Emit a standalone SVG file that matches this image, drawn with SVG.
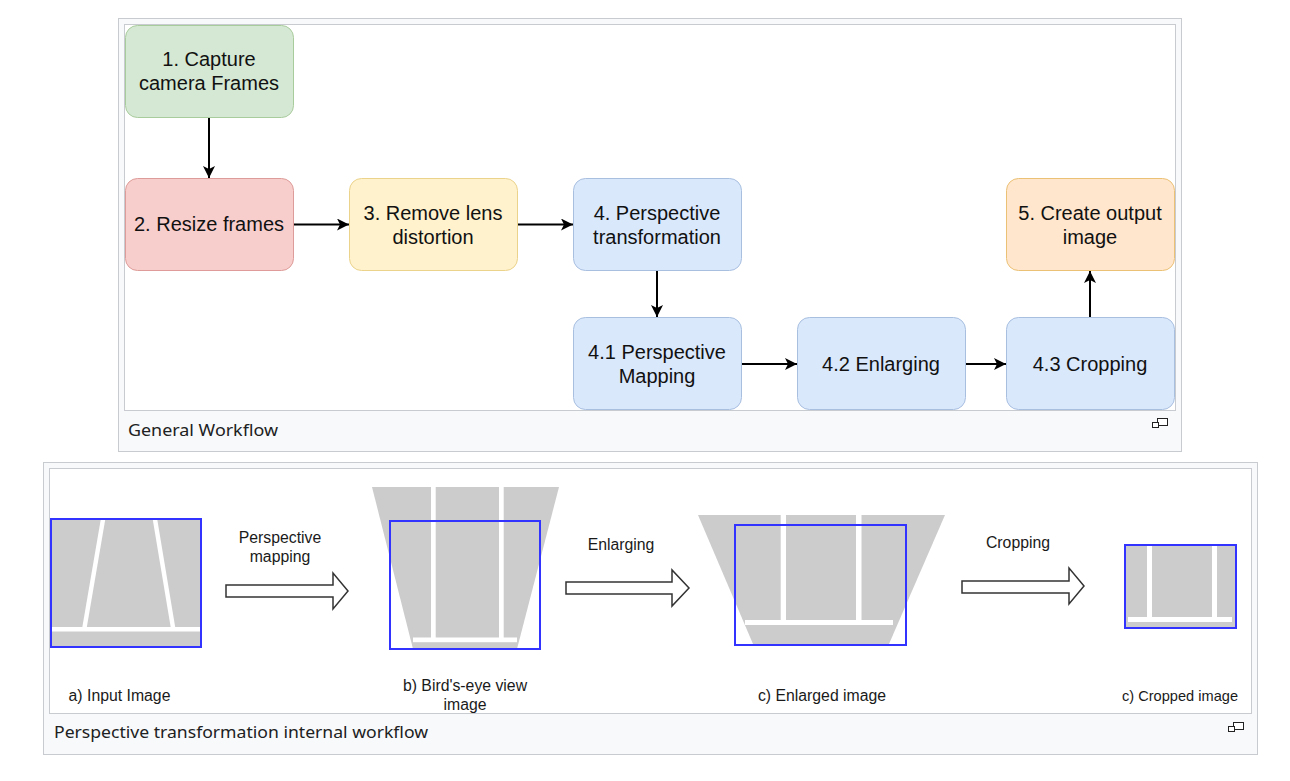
<svg xmlns="http://www.w3.org/2000/svg" width="1290" height="781" viewBox="0 0 1290 781">
<style>
.frame{fill:#f8f9fa;stroke:#c8ccd1;stroke-width:1}
.inner{fill:#ffffff;stroke:#c8ccd1;stroke-width:1}
.cap{font-family:"Noto Sans","Open Sans",sans-serif;font-size:16px;fill:#202122}
.nt{font-family:"Liberation Sans",Arial,sans-serif;font-size:20px;fill:#111;text-anchor:middle}
.lt{font-family:"Liberation Sans",Arial,sans-serif;font-size:15.8px;fill:#1a1a1a;text-anchor:middle}
.conn{stroke:#000;stroke-width:2;fill:none}
.green{fill:#d5e8d4;stroke:#a9cc9c}
.red{fill:#f8cecc;stroke:#dd9c99}
.yellow{fill:#fff2cc;stroke:#ebd38c}
.blue{fill:#dae8fc;stroke:#a8bfe0}
.orange{fill:#ffe6cc;stroke:#ebc175}
.gray{fill:#cccccc}
.wl{fill:#ffffff}
.sel{fill:none;stroke:#3333ff;stroke-width:2}
.harrow{fill:#ffffff;stroke:#333;stroke-width:1.5}
.icon{fill:#ffffff;stroke:#222;stroke-width:1}
</style>
<defs>
<marker id="ah" markerUnits="userSpaceOnUse" markerWidth="13" markerHeight="12" refX="12" refY="6" orient="auto">
<path d="M0,0 L12,6 L0,12 L3,6 z" fill="#000"/>
</marker>
</defs>

<!-- Top frame -->
<g id="frame-general">
<rect class="frame" x="118.5" y="18.5" width="1063" height="433"/>
<rect class="inner" x="124.5" y="24.5" width="1051" height="386"/>
<text class="cap" x="128" y="436" textLength="150" lengthAdjust="spacingAndGlyphs">General Workflow</text>
<rect class="icon" x="1157.5" y="418.5" width="10" height="7"/>
<rect class="icon" x="1152.5" y="422.5" width="6" height="5"/>
</g>

<g id="node1">
<rect class="green" x="125.5" y="25.5" width="168" height="92" rx="12"/>
<text class="nt" x="209" y="66">1. Capture</text>
<text class="nt" x="209" y="90">camera Frames</text>
</g>
<g id="node2">
<rect class="red" x="125.5" y="178.5" width="168" height="92" rx="12"/>
<text class="nt" x="209" y="231">2. Resize frames</text>
</g>
<g id="node3">
<rect class="yellow" x="349.5" y="178.5" width="168" height="92" rx="12"/>
<text class="nt" x="433" y="220">3. Remove lens</text>
<text class="nt" x="433" y="244">distortion</text>
</g>
<g id="node4">
<rect class="blue" x="573.5" y="178.5" width="168" height="92" rx="12"/>
<text class="nt" x="657" y="220">4. Perspective</text>
<text class="nt" x="657" y="244">transformation</text>
</g>
<g id="node5">
<rect class="orange" x="1006.5" y="178.5" width="168" height="92" rx="12"/>
<text class="nt" x="1090" y="220">5. Create output</text>
<text class="nt" x="1090" y="244">image</text>
</g>
<g id="node41">
<rect class="blue" x="573.5" y="317.5" width="168" height="92" rx="12"/>
<text class="nt" x="657" y="359">4.1 Perspective</text>
<text class="nt" x="657" y="383">Mapping</text>
</g>
<g id="node42">
<rect class="blue" x="797.5" y="317.5" width="168" height="92" rx="12"/>
<text class="nt" x="881" y="371">4.2 Enlarging</text>
</g>
<g id="node43">
<rect class="blue" x="1006.5" y="317.5" width="168" height="92" rx="12"/>
<text class="nt" x="1090" y="371">4.3 Cropping</text>
</g>

<g id="connectors">
<line class="conn" x1="209" y1="118" x2="209" y2="178" marker-end="url(#ah)"/>
<line class="conn" x1="294" y1="224.5" x2="349" y2="224.5" marker-end="url(#ah)"/>
<line class="conn" x1="518" y1="224.5" x2="573" y2="224.5" marker-end="url(#ah)"/>
<line class="conn" x1="657" y1="271" x2="657" y2="317" marker-end="url(#ah)"/>
<line class="conn" x1="742" y1="364" x2="797" y2="364" marker-end="url(#ah)"/>
<line class="conn" x1="966" y1="364" x2="1006" y2="364" marker-end="url(#ah)"/>
<line class="conn" x1="1090" y1="317" x2="1090" y2="271" marker-end="url(#ah)"/>
</g>

<!-- Bottom frame -->
<g id="frame-perspective">
<rect class="frame" x="43.5" y="462.5" width="1214" height="292"/>
<rect class="inner" x="49.5" y="468.5" width="1202" height="245"/>
<text class="cap" x="54" y="738" textLength="374" lengthAdjust="spacingAndGlyphs">Perspective transformation internal workflow</text>
<rect class="icon" x="1233.5" y="722.5" width="10" height="7"/>
<rect class="icon" x="1228.5" y="726.5" width="6" height="5"/>
</g>

<g id="img-input">
<rect class="gray" x="50" y="518" width="151" height="129"/>
<polygon class="wl" points="101,518 105.5,518 86.5,629 82,629"/>
<polygon class="wl" points="152.5,518 157,518 175.5,629 171,629"/>
<rect class="wl" x="50" y="627" width="151" height="4.5"/>
<rect class="sel" x="51" y="519" width="150" height="128"/>
<text class="lt" x="119.5" y="701">a) Input Image</text>
</g>

<g id="img-birdseye">
<polygon class="gray" points="372,487 559,487 517,649 413,649"/>
<rect class="wl" x="431" y="487" width="4.7" height="151"/>
<rect class="wl" x="499" y="487" width="4.7" height="151"/>
<rect class="wl" x="413" y="637.5" width="104" height="4.7"/>
<rect class="sel" x="390" y="521" width="150" height="128"/>
<text class="lt" x="465" y="691">b) Bird's-eye view</text>
<text class="lt" x="465" y="710">image</text>
</g>

<g id="img-enlarged">
<polygon class="gray" points="698,515 945,515 889,644 753,644"/>
<rect class="wl" x="780.7" y="515" width="5.3" height="107"/>
<rect class="wl" x="856" y="515" width="5.5" height="107"/>
<rect class="wl" x="745" y="620" width="148" height="5"/>
<rect class="sel" x="735" y="525" width="171" height="120"/>
<text class="lt" x="822" y="701">c) Enlarged image</text>
</g>

<g id="img-cropped">
<rect class="gray" x="1125" y="545" width="111" height="83"/>
<rect class="wl" x="1147" y="545" width="5" height="74"/>
<rect class="wl" x="1212" y="545" width="5" height="74"/>
<rect class="wl" x="1128" y="617" width="104" height="5"/>
<rect class="sel" x="1125" y="545" width="111" height="83"/>
<text class="lt" x="1180" y="701" style="font-size:14.6px">c) Cropped image</text>
</g>

<g id="step-arrows">
<polygon class="harrow" points="226,585 333,585 333,573 348,591 333,609 333,597 226,597"/>
<text class="lt" x="280" y="543">Perspective</text>
<text class="lt" x="280" y="562">mapping</text>
<polygon class="harrow" points="566,582 672,582 672,570 689,588 672,606 672,594 566,594"/>
<text class="lt" x="621" y="550">Enlarging</text>
<polygon class="harrow" points="962,581 1069,581 1069,568 1084,586 1069,604 1069,593 962,593"/>
<text class="lt" x="1018" y="548">Cropping</text>
</g>
</svg>
